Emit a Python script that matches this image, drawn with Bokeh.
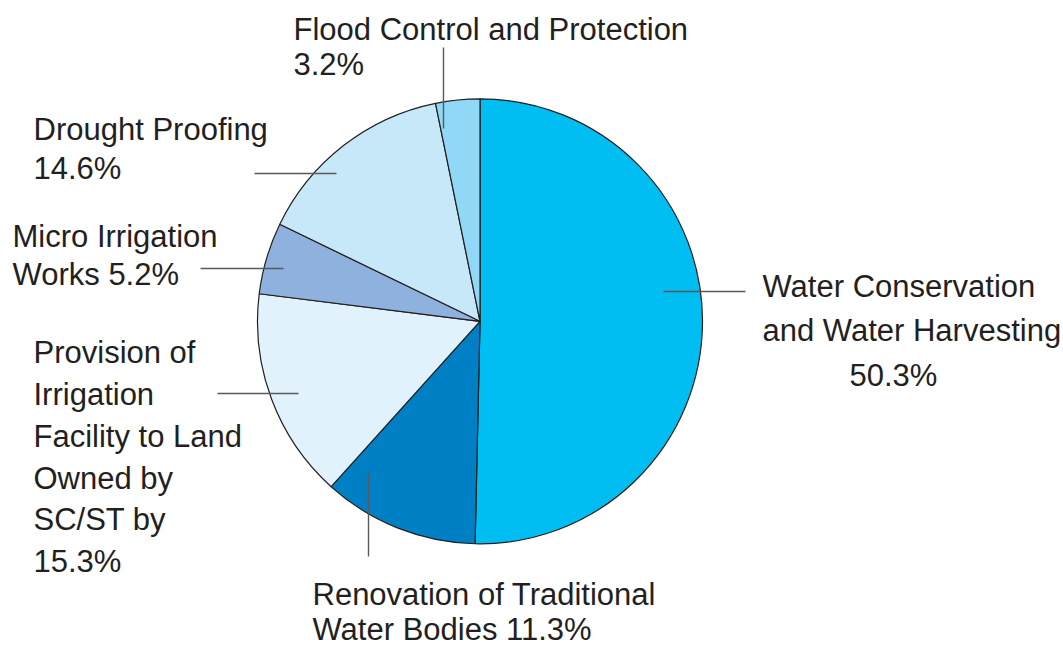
import numpy as np
from bokeh.plotting import figure
from bokeh.models import Range1d, ColumnDataSource
from bokeh.core.properties import value
from bokeh.embed import file_html
from bokeh.resources import INLINE

# ---- data ----
categories = [
    "Water Conservation and Water Harvesting",
    "Renovation of Traditional Water Bodies",
    "Provision of Irrigation Facility to Land Owned by SC/ST",
    "Micro Irrigation Works",
    "Drought Proofing",
    "Flood Control and Protection",
]
shares = [50.3, 11.3, 15.3, 5.2, 14.6, 3.2]
colors = ["#00BEF2", "#0080C4", "#E1F2FC", "#8EB1DE", "#C6E8F8", "#91D8F6"]
label_lines = [
    ["Water Conservation", "and Water Harvesting", "50.3%"],
    ["Renovation of Traditional", "Water Bodies 11.3%"],
    ["Provision of", "Irrigation", "Facility to Land", "Owned by", "SC/ST by", "15.3%"],
    ["Micro Irrigation", "Works 5.2%"],
    ["Drought Proofing", "14.6%"],
    ["Flood Control and Protection", "3.2%"],
]

# ---- layout (pixel coordinates, y measured from top) ----
W, H = 1063, 648
CX, CY, R = 479.5, 320.8, 222.5
BASE_SHIFT = 11
label_pos = [
    [(762, 297), (762, 341), (849, 386)],
    [(312, 605), (312, 640)],
    [(33, 363), (33, 405), (33, 447), (33, 489), (33, 530), (33, 572)],
    [(12, 247), (12, 285)],
    [(33, 140), (33, 179)],
    [(293, 40), (293, 75)],
]
leaders = [
    ((663, 291), (745, 291)),
    ((368, 473), (368, 556)),
    ((217, 393), (298, 393)),
    ((200, 268), (283, 268)),
    ((254, 173), (336, 173)),
    ((443, 47), (443, 128)),
]

def fy(y):
    return H - y

total = sum(shares)
frac = np.array(shares) / total
cum = np.concatenate([[0], np.cumsum(frac)])
start = np.pi / 2 - 2 * np.pi * cum[:-1]
end = np.pi / 2 - 2 * np.pi * cum[1:]

p = figure(width=W, height=H, x_range=Range1d(0, W), y_range=Range1d(0, H),
           output_backend="svg", toolbar_location=None, min_border=0)
p.axis.visible = False
p.grid.visible = False
p.outline_line_color = None
p.background_fill_color = "white"
p.border_fill_color = "white"

src = ColumnDataSource(dict(cat=categories, start=start, end=end, color=colors))
p.wedge(x=CX, y=fy(CY), radius=R, start_angle="start", end_angle="end",
        direction="clock", fill_color="color", line_color="#231F20",
        line_width=1.2, source=src)

# leader lines
p.segment(x0=[a[0][0] for a in leaders], y0=[fy(a[0][1]) for a in leaders],
          x1=[a[1][0] for a in leaders], y1=[fy(a[1][1]) for a in leaders],
          line_color="#58595B", line_width=1.4)

tx, ty, tt = [], [], []
for lines, poss in zip(label_lines, label_pos):
    for s, (x, y) in zip(lines, poss):
        tx.append(x)
        ty.append(fy(y - BASE_SHIFT))
        tt.append(s)
p.text(x=tx, y=ty, text=tt, text_font=value("Arial"),
       text_font_size="31px", text_color="#231F20",
       text_align="left", text_baseline="alphabetic")

open("out.html", "w").write(file_html(p, INLINE))
